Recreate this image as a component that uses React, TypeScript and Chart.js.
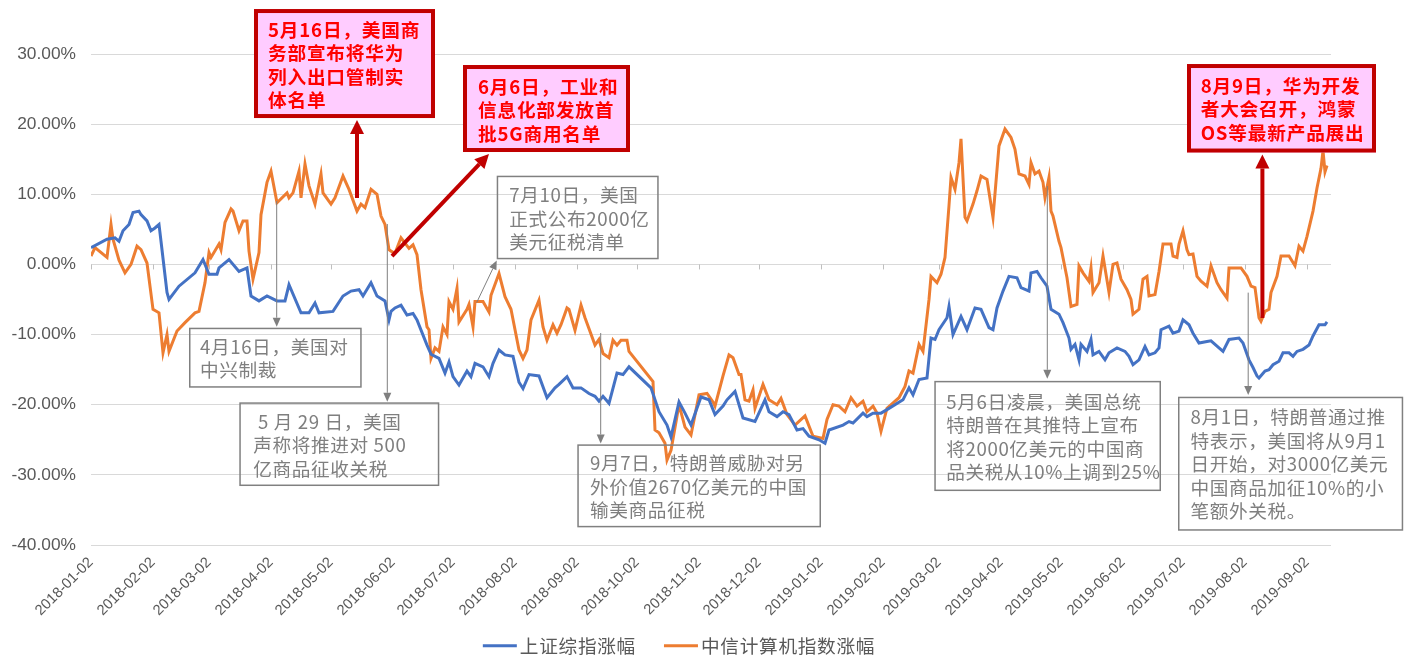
import React, { useEffect, useRef } from "react";
import { Chart, registerables } from "chart.js";
Chart.register(...registerables);

const seriesNames = ["上证综指涨幅", "中信计算机指数涨幅"];
const seriesColors = ["#4472C4", "#ED7D31"];

const tickLabels = [
  "2018-01-02", "2018-02-02", "2018-03-02", "2018-04-02", "2018-05-02", "2018-06-02",
  "2018-07-02", "2018-08-02", "2018-09-02", "2018-10-02", "2018-11-02", "2018-12-02",
  "2019-01-02", "2019-02-02", "2019-03-02", "2019-04-02", "2019-05-02", "2019-06-02",
  "2019-07-02", "2019-08-02", "2019-09-02",
];

const blueDates = [
  "2018-01-02", "2018-01-10", "2018-01-14", "2018-01-16", "2018-01-18", "2018-01-21", "2018-01-23", "2018-01-26",
  "2018-01-27", "2018-01-30", "2018-02-01", "2018-02-03", "2018-02-05", "2018-02-06", "2018-02-09", "2018-02-10",
  "2018-02-15", "2018-02-23", "2018-02-27", "2018-03-02", "2018-03-06", "2018-03-07", "2018-03-12", "2018-03-17",
  "2018-03-21", "2018-03-23", "2018-03-27", "2018-03-31", "2018-04-05", "2018-04-09", "2018-04-11", "2018-04-17",
  "2018-04-21", "2018-04-24", "2018-04-26", "2018-05-03", "2018-05-08", "2018-05-12", "2018-05-16", "2018-05-18",
  "2018-05-22", "2018-05-25", "2018-05-29", "2018-05-31", "2018-06-01", "2018-06-03", "2018-06-06", "2018-06-09",
  "2018-06-12", "2018-06-14", "2018-06-19", "2018-06-21", "2018-06-25", "2018-06-28", "2018-06-30", "2018-07-02",
  "2018-07-05", "2018-07-09", "2018-07-11", "2018-07-13", "2018-07-17", "2018-07-20", "2018-07-22", "2018-07-25",
  "2018-07-28", "2018-08-01", "2018-08-04", "2018-08-06", "2018-08-09", "2018-08-14", "2018-08-18", "2018-08-22",
  "2018-08-24", "2018-08-28", "2018-08-31", "2018-09-04", "2018-09-08", "2018-09-11", "2018-09-13", "2018-09-15",
  "2018-09-18", "2018-09-22", "2018-09-25", "2018-09-28", "2018-10-09", "2018-10-13", "2018-10-17", "2018-10-19",
  "2018-10-23", "2018-10-26", "2018-10-29", "2018-11-03", "2018-11-07", "2018-11-10", "2018-11-14", "2018-11-16",
  "2018-11-20", "2018-11-24", "2018-11-30", "2018-12-05", "2018-12-07", "2018-12-11", "2018-12-14", "2018-12-17",
  "2018-12-21", "2018-12-24", "2018-12-27", "2019-01-01", "2019-01-04", "2019-01-06", "2019-01-13", "2019-01-16",
  "2019-01-18", "2019-01-23", "2019-01-25", "2019-01-28", "2019-02-01", "2019-02-04", "2019-02-12", "2019-02-15",
  "2019-02-17", "2019-02-20", "2019-02-24", "2019-02-26", "2019-02-28", "2019-03-02", "2019-03-06", "2019-03-07",
  "2019-03-09", "2019-03-13", "2019-03-16", "2019-03-20", "2019-03-23", "2019-03-27", "2019-03-29", "2019-03-31",
  "2019-04-03", "2019-04-06", "2019-04-10", "2019-04-12", "2019-04-16", "2019-04-17", "2019-04-20", "2019-04-22",
  "2019-04-25", "2019-04-27", "2019-05-01", "2019-05-03", "2019-05-06", "2019-05-07", "2019-05-09", "2019-05-11",
  "2019-05-12", "2019-05-15", "2019-05-17", "2019-05-18", "2019-05-21", "2019-05-24", "2019-05-26", "2019-05-30",
  "2019-06-03", "2019-06-05", "2019-06-07", "2019-06-10", "2019-06-13", "2019-06-15", "2019-06-18", "2019-06-20",
  "2019-06-21", "2019-06-25", "2019-06-27", "2019-06-30", "2019-07-02", "2019-07-05", "2019-07-07", "2019-07-10",
  "2019-07-14", "2019-07-16", "2019-07-20", "2019-07-22", "2019-07-25", "2019-07-30", "2019-08-01", "2019-08-04",
  "2019-08-06", "2019-08-08", "2019-08-09", "2019-08-12", "2019-08-14", "2019-08-16", "2019-08-19", "2019-08-21",
  "2019-08-24", "2019-08-26", "2019-08-28", "2019-08-31", "2019-09-03", "2019-09-05", "2019-09-08", "2019-09-11",
  "2019-09-12",
];
const blueValues = [
  2.4, 3.6, 3.8, 3.3, 4.8, 5.7, 7.4, 7.6,
  7.1, 6.2, 4.8, 5.2, 5.7, 3.3, -4.0, -5.0,
  -3.1, -1.2, 0.7, -1.4, -1.4, -0.5, 0.7, -1.0,
  -0.5, -4.5, -5.2, -4.5, -5.2, -5.2, -2.9, -6.9,
  -6.9, -5.5, -6.9, -6.7, -4.5, -3.8, -3.6, -4.5,
  -2.6, -4.5, -5.2, -7.9, -6.7, -6.2, -5.8, -7.2,
  -7.0, -7.9, -11.5, -12.8, -13.4, -15.5, -13.9, -16.0,
  -17.2, -15.2, -16.0, -14.1, -14.6, -16.0, -14.1, -12.2,
  -12.9, -13.1, -16.8, -17.7, -15.7, -15.9, -19.0, -17.6,
  -17.1, -16.0, -17.6, -17.6, -18.4, -18.8, -19.5, -18.8,
  -19.8, -15.5, -15.7, -14.6, -17.6, -21.0, -22.9, -24.6,
  -19.6, -21.2, -22.9, -18.9, -19.3, -21.4, -20.2, -19.3,
  -18.1, -21.9, -22.4, -19.3, -21.0, -21.7, -21.0, -21.4,
  -23.6, -23.4, -24.5, -25.0, -25.5, -23.6, -22.9, -22.4,
  -22.6, -21.2, -21.7, -21.2, -21.2, -20.7, -19.3, -17.6,
  -18.6, -16.4, -16.2, -10.5, -10.7, -9.3, -7.6, -6.0,
  -10.0, -7.4, -9.3, -6.2, -6.4, -9.0, -9.3, -6.2,
  -3.8, -1.7, -1.9, -3.3, -3.8, -1.2, -1.0, -1.9,
  -3.1, -6.4, -7.1, -8.3, -10.5, -12.1, -11.4, -13.6,
  -11.4, -12.4, -10.7, -12.9, -12.4, -13.6, -12.6, -11.9,
  -12.4, -13.1, -14.3, -13.6, -11.7, -12.9, -12.6, -11.9,
  -9.3, -8.8, -9.8, -9.5, -7.9, -8.6, -9.8, -11.2,
  -11.0, -10.9, -11.9, -12.4, -10.7, -10.5, -11.2, -13.6,
  -14.7, -15.9, -16.2, -15.2, -15.0, -14.3, -13.8, -12.6,
  -12.6, -13.1, -12.4, -12.1, -11.5, -10.2, -8.6, -8.6,
  -8.2,
];

const orangeDates = [
  "2018-01-02", "2018-01-04", "2018-01-10", "2018-01-12", "2018-01-13", "2018-01-16", "2018-01-19", "2018-01-22",
  "2018-01-25", "2018-01-27", "2018-01-30", "2018-02-02", "2018-02-05", "2018-02-07", "2018-02-09", "2018-02-10",
  "2018-02-14", "2018-02-18", "2018-02-23", "2018-02-25", "2018-02-28", "2018-03-02", "2018-03-03", "2018-03-07",
  "2018-03-08", "2018-03-10", "2018-03-13", "2018-03-14", "2018-03-17", "2018-03-19", "2018-03-21", "2018-03-22",
  "2018-03-24", "2018-03-27", "2018-03-28", "2018-03-31", "2018-04-02", "2018-04-05", "2018-04-10", "2018-04-11",
  "2018-04-13", "2018-04-16", "2018-04-17", "2018-04-19", "2018-04-21", "2018-04-24", "2018-04-27", "2018-04-28",
  "2018-05-02", "2018-05-04", "2018-05-08", "2018-05-11", "2018-05-15", "2018-05-17", "2018-05-19", "2018-05-22",
  "2018-05-25", "2018-05-27", "2018-05-29", "2018-05-31", "2018-06-01", "2018-06-03", "2018-06-06", "2018-06-10",
  "2018-06-12", "2018-06-14", "2018-06-16", "2018-06-19", "2018-06-20", "2018-06-21", "2018-06-23", "2018-06-25",
  "2018-06-27", "2018-06-29", "2018-06-30", "2018-07-02", "2018-07-04", "2018-07-05", "2018-07-09", "2018-07-10",
  "2018-07-12", "2018-07-13", "2018-07-17", "2018-07-20", "2018-07-21", "2018-07-25", "2018-07-28", "2018-07-31",
  "2018-08-04", "2018-08-06", "2018-08-08", "2018-08-10", "2018-08-14", "2018-08-16", "2018-08-18", "2018-08-21",
  "2018-08-23", "2018-08-25", "2018-08-28", "2018-08-29", "2018-09-01", "2018-09-04", "2018-09-06", "2018-09-11",
  "2018-09-13", "2018-09-15", "2018-09-18", "2018-09-20", "2018-09-22", "2018-09-24", "2018-09-27", "2018-09-28",
  "2018-10-10", "2018-10-11", "2018-10-13", "2018-10-16", "2018-10-17", "2018-10-19", "2018-10-23", "2018-10-26",
  "2018-10-29", "2018-11-02", "2018-11-06", "2018-11-09", "2018-11-10", "2018-11-14", "2018-11-17", "2018-11-19",
  "2018-11-22", "2018-11-23", "2018-11-25", "2018-11-27", "2018-11-29", "2018-11-30", "2018-12-04", "2018-12-07",
  "2018-12-11", "2018-12-13", "2018-12-16", "2018-12-20", "2018-12-25", "2018-12-29", "2019-01-03", "2019-01-05",
  "2019-01-08", "2019-01-11", "2019-01-14", "2019-01-17", "2019-01-20", "2019-01-23", "2019-01-25", "2019-01-28",
  "2019-01-30", "2019-02-01", "2019-02-04", "2019-02-10", "2019-02-13", "2019-02-15", "2019-02-17", "2019-02-20",
  "2019-02-22", "2019-02-25", "2019-02-26", "2019-03-01", "2019-03-03", "2019-03-05", "2019-03-07", "2019-03-08",
  "2019-03-10", "2019-03-12", "2019-03-13", "2019-03-15", "2019-03-16", "2019-03-19", "2019-03-21", "2019-03-23",
  "2019-03-26", "2019-03-29", "2019-04-01", "2019-04-04", "2019-04-07", "2019-04-09", "2019-04-11", "2019-04-14",
  "2019-04-16", "2019-04-17", "2019-04-19", "2019-04-21", "2019-04-23", "2019-04-24", "2019-04-26", "2019-04-27",
  "2019-04-28", "2019-05-01", "2019-05-02", "2019-05-05", "2019-05-07", "2019-05-10", "2019-05-11", "2019-05-13",
  "2019-05-16", "2019-05-17", "2019-05-18", "2019-05-21", "2019-05-23", "2019-05-26", "2019-05-28", "2019-05-30",
  "2019-06-01", "2019-06-04", "2019-06-06", "2019-06-07", "2019-06-10", "2019-06-12", "2019-06-14", "2019-06-15",
  "2019-06-18", "2019-06-20", "2019-06-22", "2019-06-26", "2019-06-27", "2019-06-29", "2019-06-30", "2019-07-02",
  "2019-07-04", "2019-07-05", "2019-07-07", "2019-07-09", "2019-07-11", "2019-07-14", "2019-07-16", "2019-07-19",
  "2019-07-21", "2019-07-24", "2019-07-25", "2019-07-29", "2019-07-31", "2019-08-03", "2019-08-05", "2019-08-07",
  "2019-08-09", "2019-08-10", "2019-08-12", "2019-08-14", "2019-08-15", "2019-08-18", "2019-08-20", "2019-08-24",
  "2019-08-27", "2019-08-29", "2019-08-31", "2019-09-02", "2019-09-05", "2019-09-07", "2019-09-09", "2019-09-10",
  "2019-09-11", "2019-09-12",
];
const orangeValues = [
  1.2, 2.4, 1.0, 5.7, 3.6, 0.6, -1.2, 0.0,
  2.6, 2.1, 0.2, -6.4, -6.9, -12.6, -10.0, -12.4,
  -9.5, -8.3, -6.9, -6.7, -2.6, 1.7, 1.0, 2.9,
  2.1, 6.0, 7.9, 7.6, 4.8, 6.2, 6.2, 1.9,
  -2.1, 1.7, 7.1, 11.7, 13.3, 8.8, 10.2, 9.5,
  10.2, 13.3, 9.5, 14.3, 11.2, 8.6, 12.9, 10.2,
  8.6, 9.5, 12.6, 10.7, 7.6, 8.6, 8.1, 10.7,
  10.0, 6.9, 5.7, 2.1, 1.9, 1.6, 3.8, 2.3,
  2.8, 1.4, -3.6, -8.9, -9.3, -13.4, -11.9, -12.4,
  -8.9, -10.0, -5.3, -6.4, -3.4, -8.2, -6.4, -5.7,
  -8.9, -5.3, -5.3, -6.8, -4.4, -1.3, -4.6, -6.4,
  -12.2, -13.4, -12.2, -7.9, -5.1, -8.9, -10.8, -8.6,
  -9.8, -8.6, -6.2, -6.4, -9.4, -5.8, -7.6, -11.5,
  -10.7, -12.7, -13.3, -10.8, -11.5, -10.8, -10.8, -12.4,
  -16.7, -23.6, -24.0, -25.5, -27.9, -26.5, -20.0, -23.2,
  -24.3, -18.6, -18.4, -19.6, -20.2, -15.9, -12.9, -13.3,
  -15.7, -15.7, -19.3, -19.5, -17.9, -20.5, -17.1, -19.3,
  -20.0, -19.1, -21.4, -22.9, -21.6, -24.5, -24.8, -22.1,
  -20.0, -20.2, -21.0, -19.0, -20.2, -19.5, -21.0, -20.2,
  -21.2, -23.8, -20.5, -19.0, -17.4, -15.2, -15.5, -11.4,
  -12.4, -5.0, -1.7, -2.6, -1.4, 1.0, 8.4, 12.4,
  10.7, 14.5, 17.9, 6.7, 6.2, 8.6, 10.5, 12.6,
  12.1, 6.7, 16.9, 19.3, 18.1, 16.4, 12.9, 12.6,
  11.4, 14.5, 12.9, 13.3, 11.7, 9.5, 12.4, 7.6,
  6.9, 3.3, 2.4, -1.9, -6.0, -5.7, -0.2, -1.2,
  -2.4, -0.5, -4.0, -2.6, 1.2, -4.0, 0.0, 0.2,
  -2.1, -3.6, -5.0, -7.1, -6.4, -2.1, -1.7, -4.5,
  -4.3, -1.0, 2.9, 2.9, 1.2, 1.0, 2.9, 4.8,
  2.1, 1.4, 1.5, -1.7, -2.4, -3.1, -0.2, -2.6,
  -3.6, -4.8, -0.5, -0.5, -0.5, -1.7, -3.1, -3.3,
  -7.6, -8.1, -6.7, -6.4, -4.0, -1.7, 1.2, 1.2,
  -0.2, 2.6, 1.9, 4.0, 7.6, 10.9, 13.7, 16.2,
  13.2, 14.1,
];

const calloutTexts = [
  ["5月16日，美国商", "务部宣布将华为", "列入出口管制实", "体名单"],
  ["6月6日，工业和", "信息化部发放首", "批5G商用名单"],
  ["8月9日，华为开发", "者大会召开，鸿蒙", "OS等最新产品展出"],
  ["4月16日，美国对", "中兴制裁"],
  [" 5 月 29 日，美国", "声称将推进对 500", "亿商品征收关税"],
  ["7月10日，美国", "正式公布2000亿", "美元征税清单"],
  ["9月7日，特朗普威胁对另", "外价值2670亿美元的中国", "输美商品征税"],
  ["5月6日凌晨，美国总统", "特朗普在其推特上宣布", "将2000亿美元的中国商", "品关税从10%上调到25%"],
  ["8月1日，特朗普通过推", "特表示，美国将从9月1", "日开始，对3000亿美元", "中国商品加征10%的小", "笔额外关税。"],
];

// Layout of callouts (anchors in axis units: [days since 2018-01-02, percent]; sizes in px)
const calloutLayout = [
  { kind: "red", box: [81.5, 36.41], w: 181, h: 109, dx: 14, dy: 20.5, from: [133, 9.47], to: [133, 20.59] },
  { kind: "red", box: [186, 28.43], w: 167, h: 87, dx: 15, dy: 21.5, from: [150.5, 1.2], to: [199, 15.74] },
  { kind: "red", box: [548, 28.57], w: 189, h: 88.5, dx: 13.7, dy: 21.5, from: [585.7, -7.64], to: [585.7, 15.67] },
  { kind: "gray", box: [49, -9.02], w: 172.7, h: 60, dx: 11, dy: 19.2, from: [92.85, 9.04], to: [92.85, -8.88] },
  { kind: "gray", box: [74.15, -19.66], w: 200, h: 83.7, dx: 14, dy: 19.4, from: [148.15, 5.76], to: [148.15, -19.58] },
  { kind: "gray", box: [202.85, 12.65], w: 162, h: 83.6, dx: 12.6, dy: 19.3, from: [192.85, -5.43], to: [202.85, 0.56] },
  { kind: "gray", box: [243.15, -25.65], w: 243.7, h: 83, dx: 12.7, dy: 19, from: [254.85, -9.78], to: [254.85, -25.53] },
  { kind: "gray", box: [421.65, -16.6], w: 226.7, h: 110.2, dx: 12, dy: 21, from: [478.15, 11.18], to: [478.15, -16.3] },
  { kind: "gray", box: [543.5, -18.86], w: 225.2, h: 134, dx: 12.5, dy: 20.3, from: [578.6, -4.02], to: [578.6, -18.62] },
];

const legendLayout = { centerX: 679, centerY: 645.7, lineLen: 34, lineGap: 3, itemGap: 28 };

const BASE = Date.UTC(2018, 0, 2);
function dayOf(s: string): number {
  const [y, m, d] = s.split("-").map(Number);
  return Math.round((Date.UTC(y, m - 1, d) - BASE) / 86400000);
}

function drawArrow(ctx: CanvasRenderingContext2D, x1: number, y1: number, x2: number, y2: number,
  lw: number, hl: number, hw: number, color: string) {
  const ang = Math.atan2(y2 - y1, x2 - x1);
  const bx = x2 - hl * Math.cos(ang);
  const by = y2 - hl * Math.sin(ang);
  ctx.save();
  ctx.strokeStyle = color;
  ctx.fillStyle = color;
  ctx.lineWidth = lw;
  ctx.lineCap = "butt";
  ctx.beginPath();
  ctx.moveTo(x1, y1);
  ctx.lineTo(bx, by);
  ctx.stroke();
  ctx.beginPath();
  ctx.moveTo(x2, y2);
  ctx.lineTo(bx + (hw / 2) * Math.sin(ang), by - (hw / 2) * Math.cos(ang));
  ctx.lineTo(bx - (hw / 2) * Math.sin(ang), by + (hw / 2) * Math.cos(ang));
  ctx.closePath();
  ctx.fill();
  ctx.restore();
}

const calloutPlugin = {
  id: "callouts",
  afterDatasetsDraw(chart: any) {
    const { ctx, scales } = chart;
    const xs = scales.x;
    const ys = scales.y;
    const px = (d: number) => xs.getPixelForValue(d);
    const py = (v: number) => ys.getPixelForValue(v);
    ctx.save();
    // small tick marks on the 0% axis line
    const y0 = py(0);
    ctx.strokeStyle = "#BFBFBF";
    ctx.lineWidth = 1;
    tickLabels.forEach((t) => {
      const x = Math.round(px(dayOf(t))) + 0.5;
      ctx.beginPath();
      ctx.moveTo(x, y0);
      ctx.lineTo(x, y0 + 5);
      ctx.stroke();
    });
    const order = calloutLayout
      .map((_, i) => i)
      .sort((a, b) => (calloutLayout[a].kind === "red" ? 1 : 0) - (calloutLayout[b].kind === "red" ? 1 : 0));
    order.forEach((i) => {
      const L = calloutLayout[i];
      const lines = calloutTexts[i];
      const red = L.kind === "red";
      drawArrow(ctx, px(L.from[0]), py(L.from[1]), px(L.to[0]), py(L.to[1]),
        red ? 4 : 1, red ? 14 : 9, red ? 14 : 8, red ? "#C00000" : "#7F7F7F");
      const bx = px(L.box[0]);
      const by = py(L.box[1]);
      if (red) {
        ctx.fillStyle = "#FFCCFF";
        ctx.fillRect(bx, by, L.w, L.h);
        ctx.strokeStyle = "#C00000";
        ctx.lineWidth = 4;
        ctx.strokeRect(bx + 2, by + 2, L.w - 4, L.h - 4);
      } else {
        ctx.strokeStyle = "#808080";
        ctx.lineWidth = 1.5;
        ctx.strokeRect(bx + 0.75, by + 0.75, L.w - 1.5, L.h - 1.5);
      }
      ctx.fillStyle = red ? "#FF0000" : "#7F7F7F";
      ctx.font = `${red ? "bold " : ""}18.67px "Noto Sans CJK SC"`;
      (ctx as any).letterSpacing = red ? "0.8px" : "0.6px";
      ctx.textBaseline = "middle";
      ctx.textAlign = "left";
      lines.forEach((ln, k) => ctx.fillText(ln, bx + L.dx, by + L.dy + k * 23.5));
      (ctx as any).letterSpacing = "0px";
    });
    ctx.restore();
  },
  afterDraw(chart: any) {
    // legend below the axis labels
    const { ctx } = chart;
    const datasets = chart.data.datasets;
    ctx.save();
    ctx.font = `18.67px "Noto Sans CJK SC"`;
    (ctx as any).letterSpacing = "0.7px";
    ctx.textBaseline = "middle";
    ctx.textAlign = "left";
    const widths = datasets.map((d: any) => ctx.measureText(d.label).width);
    const G = legendLayout;
    const total = widths.reduce((s: number, w: number) => s + G.lineLen + G.lineGap + w, 0) + G.itemGap * (datasets.length - 1);
    let x = G.centerX - total / 2;
    datasets.forEach((d: any, i: number) => {
      ctx.strokeStyle = d.borderColor;
      ctx.lineWidth = 3;
      ctx.beginPath();
      ctx.moveTo(x, G.centerY);
      ctx.lineTo(x + G.lineLen, G.centerY);
      ctx.stroke();
      ctx.fillStyle = "#595959";
      ctx.fillText(d.label, x + G.lineLen + G.lineGap, G.centerY);
      x += G.lineLen + G.lineGap + widths[i] + G.itemGap;
    });
    (ctx as any).letterSpacing = "0px";
    ctx.restore();
  },
};

export default function App() {
  const ref = useRef<HTMLCanvasElement>(null);
  useEffect(() => {
    if (!ref.current) return;
    Chart.defaults.font.family = "'Liberation Sans', Arial, sans-serif";
    const chart = new Chart(ref.current, {
      type: "line",
      data: {
        datasets: [
          {
            label: seriesNames[0],
            data: blueDates.map((d, i) => ({ x: dayOf(d), y: blueValues[i] })),
            borderColor: seriesColors[0],
            backgroundColor: seriesColors[0],
            borderWidth: 3,
            pointRadius: 0,
            tension: 0,
          },
          {
            label: seriesNames[1],
            data: orangeDates.map((d, i) => ({ x: dayOf(d), y: orangeValues[i] })),
            borderColor: seriesColors[1],
            backgroundColor: seriesColors[1],
            borderWidth: 3,
            pointRadius: 0,
            tension: 0,
          },
        ],
      },
      options: {
        responsive: false,
        animation: false,
        devicePixelRatio: 1,
        layout: { padding: { top: 54, right: 81, left: 0, bottom: 0 } },
        scales: {
          x: {
            type: "linear",
            min: 0,
            max: 620,
            bounds: "data",
            grid: { display: false, drawTicks: false },
            border: { display: false },
            afterBuildTicks: (s: any) => {
              s.ticks = tickLabels.map((t) => ({ value: dayOf(t) }));
            },
            afterFit: (s: any) => {
              s.height = 112;
            },
            ticks: {
              autoSkip: false,
              minRotation: 45,
              maxRotation: 45,
              padding: 9,
              color: "#595959",
              font: { family: "'Liberation Sans', Arial, sans-serif", size: 14.67 },
              callback: (_v: any, i: number) => tickLabels[i],
            },
          },
          y: {
            min: -40,
            max: 30,
            bounds: "data",
            afterFit: (s: any) => {
              s.width = 91;
            },
            grid: { color: "#D9D9D9", lineWidth: 1, drawTicks: false },
            border: { display: false },
            ticks: {
              stepSize: 10,
              padding: 15,
              color: "#595959",
              font: { family: "'Liberation Sans', Arial, sans-serif", size: 17.33 },
              callback: (v: any) => Number(v).toFixed(2) + "%",
            },
          },
        },
        plugins: {
          legend: { display: false },
          tooltip: { enabled: false },
        },
      } as any,
      plugins: [calloutPlugin],
    });
    return () => chart.destroy();
  }, []);
  return (
    <div style={{ position: "absolute", left: 0, top: 0, width: 1412, height: 657, background: "#fff" }}>
      <canvas ref={ref} width={1412} height={657} style={{ display: "block", width: 1412, height: 657 }} />
    </div>
  );
}
